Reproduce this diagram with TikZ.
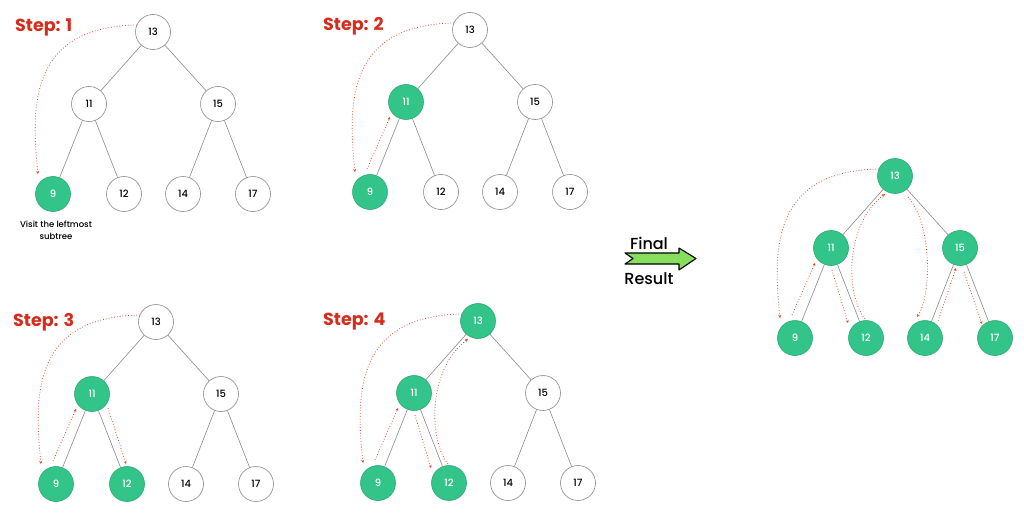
\documentclass[tikz,border=0pt]{standalone}
\usepackage{fontspec}
\setmainfont{Poppins}
\newfontfamily\pmed{Poppins}[UprightFont=* Medium]
\usetikzlibrary{arrows.meta,calc}
\definecolor{nodegreen}{HTML}{33C48A}
\definecolor{nodegreenline}{HTML}{2BA874}
\definecolor{edgegray}{HTML}{8A8A8A}
\definecolor{trred}{HTML}{E04A2F}
\definecolor{steprd}{HTML}{D42D1E}
\definecolor{arrowgreen}{HTML}{86DE5C}
\tikzset{
  wn/.style={circle,draw=edgegray,line width=0.6pt,fill=white,minimum size=35pt,inner sep=0pt,font=\pmed\fontsize{10}{12}\selectfont,text=black},
  gn/.style={circle,draw=nodegreenline,line width=0.6pt,fill=nodegreen,minimum size=35pt,inner sep=0pt,font=\pmed\fontsize{10}{12}\selectfont,text=white},
  edge/.style={draw=edgegray,line width=0.6pt},
  trav/.style={draw=trred,line width=0.8pt,dash pattern=on 0.8pt off 2pt,-{Stealth[length=3pt,width=3pt]}},
  steplbl/.style={font=\fontsize{17.5}{20}\bfseries,text=steprd,anchor=west,inner sep=0pt},
}
\newcommand\bintree[9]{%
\begin{scope}[shift={#2}]
\node[#3] (#113) at (153,32) {13};
\node[#4] (#111) at (89,104) {11};
\node[#5] (#115) at (218,104) {15};
\node[#6] (#19) at (53,194) {9};
\node[#7] (#112) at (124,194) {12};
\node[#8] (#114) at (183,194) {14};
\node[#9] (#117) at (253,194) {17};
\end{scope}
\draw[edge] (#113) -- (#111);
\draw[edge] (#113) -- (#115);
\draw[edge] (#111) -- (#19);
\draw[edge] (#111) -- (#112);
\draw[edge] (#115) -- (#114);
\draw[edge] (#115) -- (#117);
}
\newcommand\tone[1]{\draw[trav] ($(#113)+(-16,-7)$) .. controls ($(#113)+(-120,-5)$) and ($(#19)+(-23,-94)$) .. ($(#19)+(-15,-20)$);}
\newcommand\ttwo[1]{\draw[trav] ($(#19)+(-3,-23)$) -- ($(#111)+(-16,15)$);}
\newcommand\tthreeR[1]{\draw[trav] ($(#111)+(16,14)$) -- ($(#112)+(-1,-20)$);}
\newcommand\tthreeL[1]{\draw[trav] ($(#111)+(1,22)$) -- ($(#112)+(-18,-15)$);}
\newcommand\tfour[1]{\draw[trav] ($(#112)+(-1,-19)$) .. controls ($(#112)+(-21,-44)$) and ($(#113)+(-50,48)$) .. ($(#113)+(-10,18)$);}
\begin{document}
\begin{tikzpicture}[x=1pt,y=-1pt]
\useasboundingbox[fill=white] (0,0) rectangle (1024,516);
% Step 1
\node[steplbl] (s1) at (15,27) {Step: 1};
\bintree{a}{(0,0)}{wn}{wn}{wn}{gn}{wn}{wn}{wn}
\tone{a}
\node[font=\pmed\fontsize{8.5}{12}\selectfont,align=center,inner sep=0pt] (visit) at (56,230) {Visit the leftmost\\subtree};
% Step 2
\node[steplbl] (s2) at (323,26) {Step: 2};
\bintree{b}{(317,-2)}{wn}{gn}{wn}{gn}{wn}{wn}{wn}
\tone{b}
\ttwo{b}
% Step 3
\node[steplbl] (s3) at (13,322) {Step: 3};
\bintree{c}{(3,290)}{wn}{gn}{wn}{gn}{gn}{wn}{wn}
\tone{c}
\ttwo{c}
\tthreeR{c}
% Step 4
\node[steplbl] (s4) at (323,322) {Step: 4};
\bintree{d}{(325,289)}{gn}{gn}{wn}{gn}{gn}{wn}{wn}
\tone{d}
\ttwo{d}
\tthreeL{d}
\tfour{d}
% Final
\bintree{f}{(742,144)}{gn}{gn}{gn}{gn}{gn}{gn}{gn}
\tone{f}
\ttwo{f}
\tthreeL{f}
\tfour{f}
\draw[trav] ($(f13)+(13,21)$) .. controls ($(f13)+(37,48)$) and ($(f14)+(7,-44)$) .. ($(f14)+(-8,-21)$);
\draw[trav] ($(f14)+(13,-17)$) -- ($(f15)+(-4,20)$);
\draw[trav] ($(f15)+(4,24)$) -- ($(f17)+(-13,-14)$);
% Final result arrow
\draw[line width=1.1pt,fill=arrowgreen,line join=round] (625,253) -- (679,253) -- (679,248) -- (696,258.5) -- (679,270) -- (679,264) -- (625,264) -- (633,258.5) -- cycle;
\node[font=\pmed\fontsize{16}{18}\selectfont,inner sep=0pt] (fin) at (649,243) {Final};
\node[font=\pmed\fontsize{16}{18}\selectfont,inner sep=0pt] (res) at (649,279) {Result};
\end{tikzpicture}
\end{document}
